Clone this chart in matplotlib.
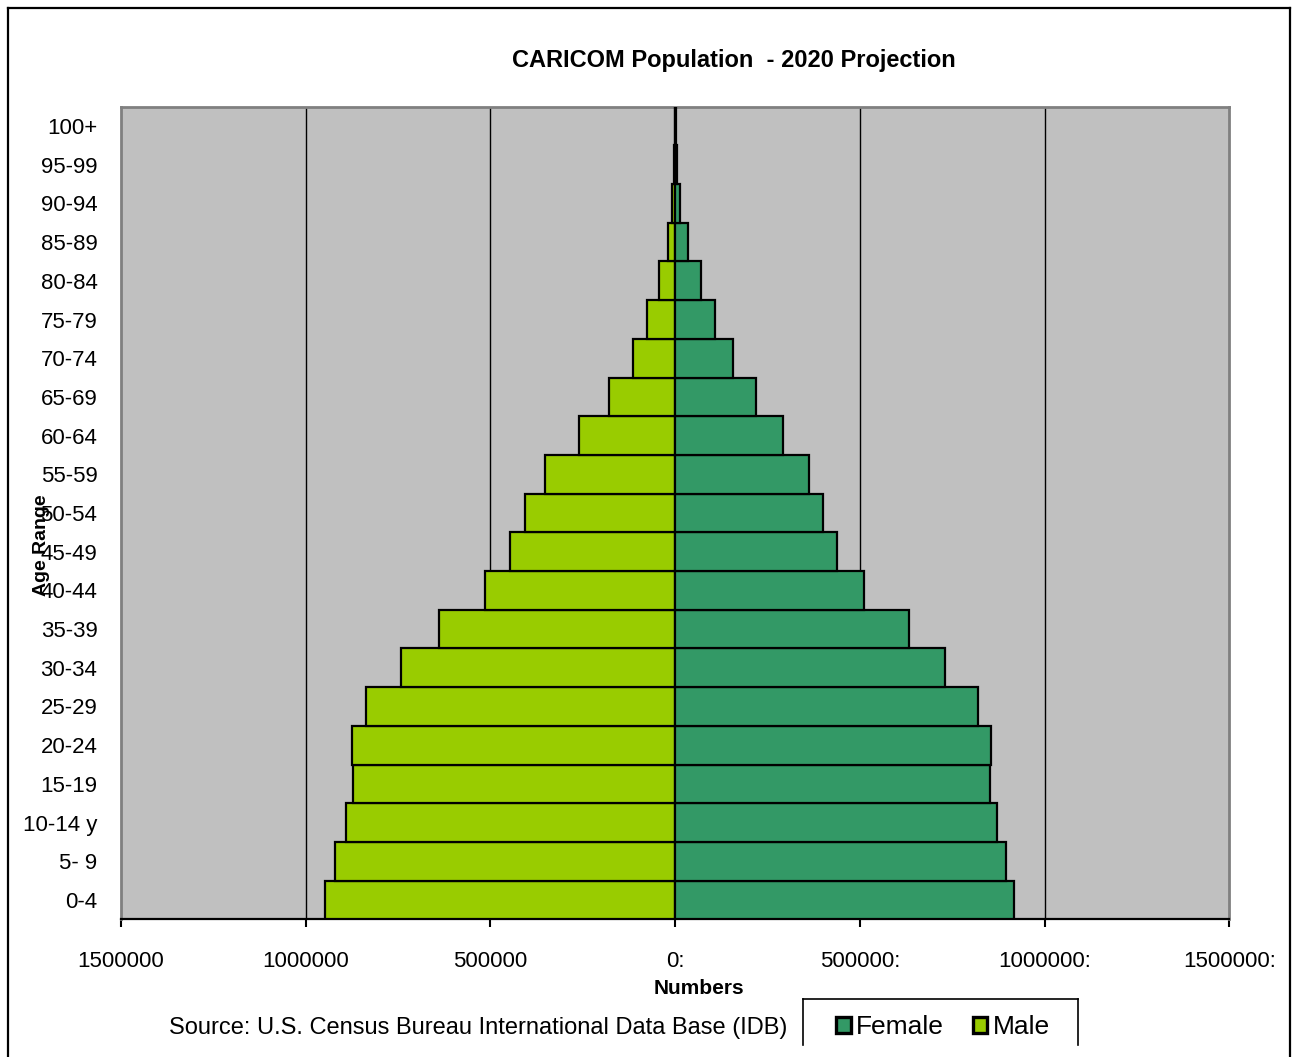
import matplotlib
matplotlib.use("Agg")
import matplotlib.pyplot as plt
from matplotlib.lines import Line2D
import numpy as np

# Age groups from youngest (bottom) to oldest (top)
age_groups = ["0-4", "5- 9", "10-14 y", "15-19", "20-24", "25-29", "30-34",
              "35-39", "40-44", "45-49", "50-54", "55-59", "60-64", "65-69",
              "70-74", "75-79", "80-84", "85-89", "90-94", "95-99", "100+"]

male = [947000, 920000, 892000, 872000, 875000, 837000, 742000,
        639000, 516000, 448000, 406000, 351000, 259000, 179000,
        114000, 76000, 45000, 20000, 8000, 2000, 500]

female = [918000, 896000, 872000, 851000, 856000, 820000, 730000,
          633000, 511000, 439000, 401000, 362000, 292000, 220000,
          157000, 108000, 69000, 35000, 14000, 4000, 1000]

x_ticks = [-1500000, -1000000, -500000, 0, 500000, 1000000, 1500000]
x_tick_labels = ["1500000", "1000000", "500000", "0:", "500000:",
                 "1000000:", "1500000:"]

plt.rcParams["font.family"] = ["Liberation Sans", "DejaVu Sans"]

W, H = 1292, 1057
fig = plt.figure(figsize=(W / 100, H / 100), dpi=100)
fig.patch.set_facecolor("white")

left, right, top, bottom = 121, 1229.3, 106.7, 919.3
ax = fig.add_axes([left / W, 1 - bottom / H, (right - left) / W, (bottom - top) / H])
ax.set_facecolor("#C0C0C0")

y = np.arange(len(age_groups))
ax.barh(y, -np.array(male), height=1.0, color="#99CC00",
        edgecolor="black", linewidth=1.6, zorder=3, label="Male")
ax.barh(y, female, height=1.0, color="#339966",
        edgecolor="black", linewidth=1.6, zorder=3, label="Female")

ax.set_xlim(-1500000, 1500000)
ax.set_ylim(-0.5, len(age_groups) - 0.5)

for g in [-1000000, -500000, 500000, 1000000]:
    ax.axvline(g, color="black", linewidth=1.0, zorder=1)

ax.set_xticks(x_ticks)
ax.set_xticklabels(x_tick_labels, fontsize=16)
ax.tick_params(axis="x", direction="out", length=6, width=1.5, color="black", pad=17)
ax.set_yticks(y)
ax.set_yticklabels(age_groups, fontsize=16)
ax.tick_params(axis="y", length=0, pad=17)

for side in ["top", "left", "right"]:
    ax.spines[side].set_color("#808080")
    ax.spines[side].set_linewidth(2)
ax.spines["bottom"].set_color("black")
ax.spines["bottom"].set_linewidth(1.6)

# Titles and annotations
fig.text(734 / W, 1 - 60 / H, "CARICOM Population  - 2020 Projection",
         ha="center", va="center", fontsize=17, fontweight="bold")
fig.text(699 / W, 1 - 988 / H, "Numbers", ha="center", va="center",
         fontsize=15, fontweight="bold")
fig.text(42 / W, 1 - 545 / H, "Age Range", ha="center", va="center",
         rotation=90, fontsize=14, fontweight="bold")
fig.text(478 / W, 1 - 1028 / H, "Source: U.S. Census Bureau International Data Base (IDB)",
         ha="center", va="center", fontsize=17)

# Outer chart frame (bottom edge falls outside the canvas)
def fig_line(x0, y0, x1, y1, lw=1.6, color="black"):
    fig.add_artist(Line2D([x0 / W, x1 / W], [1 - y0 / H, 1 - y1 / H],
                          color=color, linewidth=lw, transform=fig.transFigure))

fig_line(8, 8, 1290, 8)
fig_line(8, 8, 8, 1057)
fig_line(1290, 8, 1290, 1057)

# Legend box, open at the bottom
fig_line(803, 999, 1078, 999, lw=1.2)
fig_line(803, 999, 803, 1045, lw=1.2)
fig_line(1078, 999, 1078, 1045, lw=1.2)

handles, labels = ax.get_legend_handles_labels()
order = [labels.index("Female"), labels.index("Male")]
leg = fig.legend([handles[i] for i in order], [labels[i] for i in order],
                 loc="center", bbox_to_anchor=(943 / W, 1 - 1027 / H),
                 ncol=2, frameon=False, fontsize=19, handlelength=0.55,
                 handleheight=0.55, handletextpad=0.2, columnspacing=1.1)
for h in leg.legend_handles:
    h.set_linewidth(2.4)

fig.savefig("out.png", dpi=100, facecolor="white")
